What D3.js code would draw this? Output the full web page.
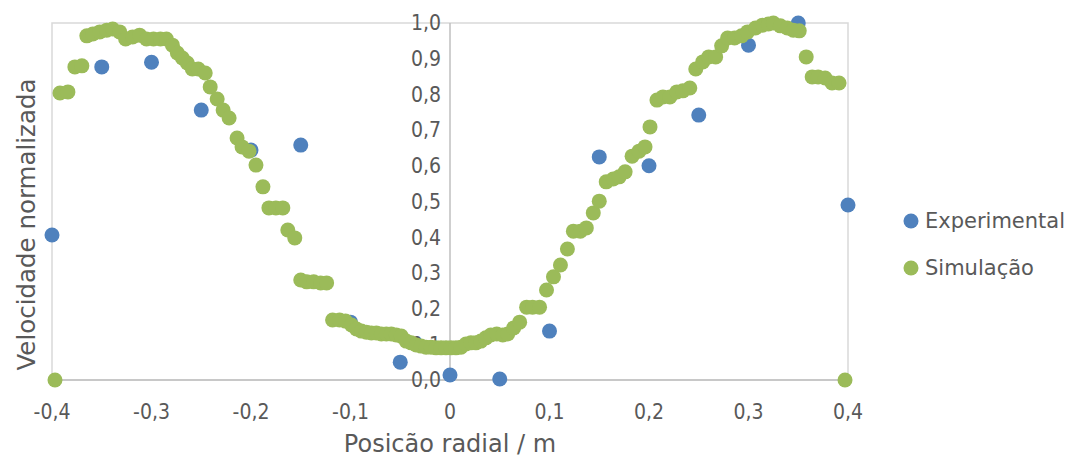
<!DOCTYPE html>
<html>
<head>
<meta charset="utf-8">
<script src="https://cdn.jsdelivr.net/npm/d3@7"></script>
<style>
  body { margin: 0; background: #fff; }
  text { font-family: "DejaVu Sans", sans-serif; fill: #595959; }
  .tick { font-family: "DejaVu Sans Condensed", "DejaVu Sans", sans-serif; }
</style>
</head>
<body>
<script>
// Experimental points
var expX = [-0.4, -0.35, -0.3, -0.25, -0.2, -0.15, -0.1, -0.05, 0, 0.05, 0.1, 0.15, 0.2, 0.25, 0.3, 0.35, 0.4];
var expY = [0.406, 0.877, 0.89, 0.756, 0.644, 0.658, 0.162, 0.05, 0.014, 0.003, 0.137, 0.625, 0.6, 0.742, 0.938, 1.0, 0.49];

// Simulation points
var simX = [-0.397, -0.392, -0.384, -0.377, -0.370, -0.365, -0.359, -0.352, -0.345, -0.339,
  -0.332, -0.326, -0.319, -0.312, -0.305, -0.298, -0.291, -0.285, -0.279, -0.274,
  -0.269, -0.264, -0.259, -0.253, -0.246, -0.241, -0.234, -0.228, -0.222, -0.214,
  -0.209, -0.202, -0.195, -0.188, -0.182, -0.175, -0.168, -0.163, -0.156, -0.150,
  -0.144, -0.137, -0.130, -0.124, -0.118, -0.111, -0.105, -0.099, -0.094, -0.089,
  -0.084, -0.079, -0.074, -0.069, -0.064, -0.059, -0.054, -0.049, -0.044, -0.039,
  -0.034, -0.029, -0.024, -0.019, -0.014, -0.009, -0.004, 0.001, 0.006, 0.011,
  0.016, 0.021, 0.026, 0.031, 0.036, 0.041, 0.047, 0.053, 0.058, 0.064,
  0.070, 0.077, 0.083, 0.090, 0.097, 0.104, 0.111, 0.118, 0.124, 0.131,
  0.137, 0.144, 0.150, 0.157, 0.164, 0.170, 0.176, 0.183, 0.190, 0.196,
  0.201, 0.208, 0.214, 0.221, 0.228, 0.234, 0.241, 0.247, 0.254, 0.260,
  0.267, 0.273, 0.279, 0.286, 0.293, 0.299, 0.307, 0.314, 0.320, 0.325,
  0.332, 0.339, 0.345, 0.351, 0.358, 0.364, 0.370, 0.377, 0.384, 0.391, 0.397];
var simY = [0, 0.804, 0.807, 0.877, 0.880, 0.964, 0.969, 0.975, 0.980, 0.983,
  0.975, 0.955, 0.961, 0.966, 0.955, 0.955, 0.955, 0.955, 0.938, 0.916,
  0.902, 0.888, 0.871, 0.871, 0.860, 0.821, 0.787, 0.756, 0.734, 0.678,
  0.653, 0.641, 0.602, 0.541, 0.482, 0.482, 0.482, 0.420, 0.398, 0.280,
  0.275, 0.275, 0.272, 0.272, 0.168, 0.168, 0.165, 0.154, 0.143, 0.137,
  0.134, 0.132, 0.132, 0.129, 0.129, 0.129, 0.126, 0.123, 0.109, 0.104,
  0.098, 0.095, 0.092, 0.092, 0.090, 0.090, 0.090, 0.090, 0.090, 0.092,
  0.101, 0.104, 0.104, 0.109, 0.118, 0.126, 0.129, 0.126, 0.129, 0.146,
  0.162, 0.204, 0.204, 0.204, 0.252, 0.289, 0.322, 0.367, 0.417, 0.417,
  0.426, 0.468, 0.501, 0.555, 0.563, 0.569, 0.583, 0.627, 0.641, 0.653,
  0.709, 0.784, 0.793, 0.793, 0.807, 0.810, 0.818, 0.871, 0.891, 0.905,
  0.905, 0.936, 0.958, 0.958, 0.964, 0.975, 0.986, 0.994, 0.997, 1.000,
  0.992, 0.986, 0.980, 0.978, 0.905, 0.849, 0.849, 0.846, 0.832, 0.832, 0];

var xTicks = [-0.4, -0.3, -0.2, -0.1, 0, 0.1, 0.2, 0.3, 0.4];
var yTicks = [0, 0.1, 0.2, 0.3, 0.4, 0.5, 0.6, 0.7, 0.8, 0.9, 1.0];
var seriesNames = ['Experimental', 'Simulação'];
var seriesColors = ['#4f81bd', '#9bbb59'];

var width = 1069, height = 458;
var plotLeft = 52, plotRight = 848, plotTop = 23, plotBottom = 380;

var x = d3.scaleLinear().domain([-0.4, 0.4]).range([plotLeft, plotRight]);
var y = d3.scaleLinear().domain([0, 1]).range([plotBottom, plotTop]);

var svg = d3.select('body').append('svg')
    .attr('width', width)
    .attr('height', height);

// plot area border
svg.append('rect')
    .attr('x', plotLeft).attr('y', plotTop)
    .attr('width', plotRight - plotLeft).attr('height', plotBottom - plotTop)
    .style('fill', 'none')
    .style('stroke', '#d9d9d9')
    .style('stroke-width', 1.5);

// axes through origin
svg.append('line')
    .attr('x1', plotLeft).attr('x2', plotRight)
    .attr('y1', y(0)).attr('y2', y(0))
    .style('stroke', '#bfbfbf').style('stroke-width', 1.5);
svg.append('line')
    .attr('x1', x(0)).attr('x2', x(0))
    .attr('y1', plotTop).attr('y2', plotBottom)
    .style('stroke', '#bfbfbf').style('stroke-width', 1.5);

var comma = function(v) {
  return d3.format('.1f')(v).replace('.', ',').replace('\u2212', '-');
};

svg.append('g').selectAll('text')
    .data(yTicks).enter().append('text')
    .attr('class', 'tick')
    .attr('x', x(0) - 9)
    .attr('y', function(d) { return y(d); })
    .attr('dy', '0.35em')
    .attr('text-anchor', 'end')
    .style('font-size', '21px')
    .text(function(d) { return comma(d); });

svg.append('g').selectAll('text')
    .data(xTicks).enter().append('text')
    .attr('class', 'tick')
    .attr('x', function(d) { return x(d); })
    .attr('y', 419)
    .attr('text-anchor', 'middle')
    .style('font-size', '21px')
    .text(function(d) { return d === 0 ? '0' : comma(d); });

svg.append('text')
    .attr('x', (plotLeft + plotRight) / 2)
    .attr('y', 452)
    .attr('text-anchor', 'middle')
    .style('font-size', '24px')
    .text('Posicão radial / m');

svg.append('text')
    .attr('transform', 'translate(35,' + ((plotTop + plotBottom) / 2 + 23) + ') rotate(-90)')
    .attr('text-anchor', 'middle')
    .style('font-size', '24.5px')
    .text('Velocidade normalizada');

var expData = expX.map(function(v, i) { return {x: v, y: expY[i]}; });
var simData = simX.map(function(v, i) { return {x: v, y: simY[i]}; });

svg.append('g').selectAll('circle')
    .data(expData).enter().append('circle')
    .attr('cx', function(d) { return x(d.x); })
    .attr('cy', function(d) { return y(d.y); })
    .attr('r', 7.5)
    .style('fill', seriesColors[0]);

svg.append('g').selectAll('circle')
    .data(simData).enter().append('circle')
    .attr('cx', function(d) { return x(d.x); })
    .attr('cy', function(d) { return y(d.y); })
    .attr('r', 7.5)
    .style('fill', seriesColors[1]);

// legend
var legend = svg.append('g').selectAll('g')
    .data(seriesNames).enter().append('g')
    .attr('transform', function(d, i) { return 'translate(911,' + (221 + i * 47) + ')'; });
legend.append('circle')
    .attr('r', 7.5)
    .style('fill', function(d, i) { return seriesColors[i]; });
legend.append('text')
    .attr('x', 14)
    .attr('dy', '0.35em')
    .style('font-size', '21px')
    .text(function(d) { return d; });
</script>
</body>
</html>
